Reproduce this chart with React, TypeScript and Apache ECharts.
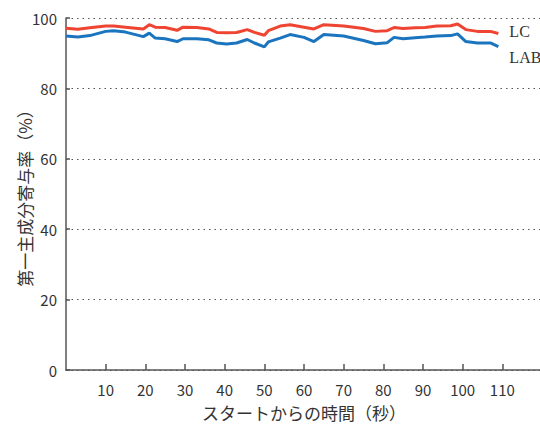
import React, { useEffect, useRef } from "react";
import * as echarts from "echarts";

const times = [0, 3, 6, 10, 12, 15, 19.5, 21, 22.5, 25, 28, 29.5, 33, 36, 38, 40.5, 43, 45.7, 47.5, 50, 51, 54, 56.5, 60, 62.5, 65, 70, 75, 78, 81, 82.7, 85, 88, 90.5, 93.5, 97, 98.7, 100.8, 103.7, 107, 109];
const lcValues = [97.1, 96.8, 97.2, 97.7, 97.7, 97.4, 96.9, 98.1, 97.4, 97.3, 96.5, 97.4, 97.3, 96.9, 95.9, 95.8, 95.9, 96.7, 95.9, 95.1, 96.4, 97.7, 98.1, 97.4, 96.9, 98.1, 97.7, 97.0, 96.2, 96.4, 97.3, 97.0, 97.2, 97.3, 97.7, 97.8, 98.3, 96.7, 96.2, 96.2, 95.6];
const labValues = [94.9, 94.6, 95.0, 96.2, 96.4, 96.0, 94.7, 95.7, 94.3, 94.1, 93.3, 94.1, 94.1, 93.8, 92.9, 92.6, 92.9, 93.9, 92.9, 91.8, 93.2, 94.3, 95.3, 94.5, 93.3, 95.3, 94.9, 93.6, 92.7, 93.0, 94.5, 94.1, 94.4, 94.6, 94.9, 95.0, 95.5, 93.3, 92.9, 92.9, 91.9];
const seriesNames = ["LC", "LAB"];
const xTickValues = [10, 20, 30, 40, 50, 60, 70, 80, 90, 100, 110];
const xAxisTitle = "スタートからの時間（秒）";
const yAxisTitle = "第一主成分寄与率（%）";

const FONT = "'Noto Sans CJK JP', 'Noto Sans', sans-serif";

export default function App() {
  const ref = useRef<HTMLDivElement>(null);
  useEffect(() => {
    if (!ref.current) return;
    const chart = echarts.init(ref.current, null, { renderer: "svg" });
    const mk = (vals: number[]) => times.map((t, i) => [t, vals[i]]);
    chart.setOption({
      animation: false,
      backgroundColor: "#ffffff",
      grid: { left: 66, top: 18, width: 476, height: 352, outerBoundsMode: "none", containLabel: false },
      xAxis: {
        type: "value",
        min: 0,
        max: 120,
        name: xAxisTitle,
        nameLocation: "middle",
        nameGap: 34,
        nameMoveOverlap: false,
        nameTextStyle: { fontFamily: FONT, fontSize: 17, color: "#333" },
        axisLine: { show: true, lineStyle: { color: "#555", width: 1.5 } },
        axisTick: {
          show: true,
          inside: true,
          length: 6,
          customValues: xTickValues,
          lineStyle: { color: "#555", width: 1.5 },
        },
        axisLabel: {
          margin: 12,
          fontFamily: FONT,
          fontSize: 15,
          color: "#333",
          customValues: xTickValues,
          alignMaxLabel: "center",
          alignMinLabel: "center",
          hideOverlap: false,
        },
        splitLine: { show: false },
      },
      yAxis: {
        type: "value",
        min: 0,
        max: 100,
        interval: 20,
        name: yAxisTitle,
        nameLocation: "middle",
        nameGap: 33,
        nameMoveOverlap: false,
        nameTextStyle: { fontFamily: FONT, fontSize: 17, color: "#333" },
        axisLine: { show: true, lineStyle: { color: "#555", width: 1.5 } },
        axisTick: { show: true, inside: true, length: 4, lineStyle: { color: "#555", width: 1.5 } },
        axisLabel: { margin: 9, fontFamily: FONT, fontSize: 15, color: "#333" },
        splitLine: { show: true, lineStyle: { color: "#555", type: [1.5, 4], width: 1.2 } },
      },
      series: [
        {
          name: seriesNames[0],
          type: "line",
          data: mk(lcValues),
          showSymbol: false,
          smooth: false,
          lineStyle: { color: "#ee4431", width: 3 },
          itemStyle: { color: "#ee4431" },
          endLabel: {
            show: true,
            formatter: seriesNames[0],
            offset: [3, -2],
            fontFamily: "'Liberation Serif', serif",
            fontSize: 16,
            color: "#333",
          },
        },
        {
          name: seriesNames[1],
          type: "line",
          data: mk(labValues),
          showSymbol: false,
          smooth: false,
          lineStyle: { color: "#1a74be", width: 3 },
          itemStyle: { color: "#1a74be" },
          endLabel: {
            show: true,
            formatter: seriesNames[1],
            offset: [3, 11],
            fontFamily: "'Liberation Serif', serif",
            fontSize: 16,
            color: "#333",
          },
        },
      ],
    });
    return () => chart.dispose();
  }, []);
  return (
    <div ref={ref} style={{ position: "absolute", left: 0, top: 0, width: 540, height: 424 }} />
  );
}
